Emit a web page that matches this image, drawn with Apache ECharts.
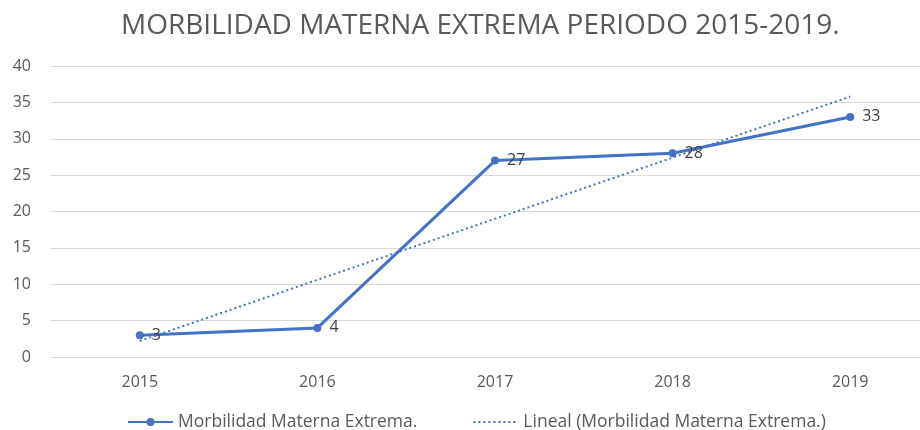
<!DOCTYPE html>
<html>
<head>
<meta charset="utf-8">
<script src="https://cdn.jsdelivr.net/npm/echarts@6/dist/echarts.min.js"></script>
<style>
  html, body { margin: 0; padding: 0; background: #fff; }
  #chart { width: 920px; height: 430px; }
</style>
</head>
<body>
<div id="chart"></div>
<script>
var years = ['2015', '2016', '2017', '2018', '2019'];
var casos = [3, 4, 27, 28, 33];
// tendencia lineal
var tendencia = [2.2, 10.6, 19, 27.4, 35.8];
var yTicks = { min: 0, max: 40, interval: 5 };

var dom = document.getElementById('chart');
var myChart = echarts.init(dom, null, { renderer: 'canvas' });

var fontFam = '"Open Sans", "Liberation Sans", sans-serif';
var azul = '#4472C4';

var option = {
  animation: false,
  title: {
    text: 'MORBILIDAD MATERNA EXTREMA PERIODO 2015-2019.',
    left: 116,
    top: 7,
    textStyle: { color: '#595959', fontSize: 28, fontWeight: 'normal', fontFamily: fontFam }
  },
  legend: {
    top: 408,
    left: 122,
    itemWidth: 45,
    itemHeight: 10,
    itemGap: 55,
    textStyle: { color: '#595959', fontSize: 17.5, fontFamily: fontFam },
    data: [
      { name: 'Morbilidad Materna Extrema.' },
      { name: 'Lineal (Morbilidad Materna Extrema.)', itemStyle: { opacity: 0 } }
    ]
  },
  grid: { left: 51, width: 888, top: 66, bottom: 73, outerBoundsMode: 'none', containLabel: false },
  xAxis: {
    type: 'category',
    data: years,
    boundaryGap: true,
    axisLine: { show: false },
    axisTick: { show: false },
    axisLabel: { color: '#595959', fontSize: 16, fontFamily: fontFam, margin: 17 }
  },
  yAxis: {
    type: 'value',
    min: yTicks.min,
    max: yTicks.max,
    interval: yTicks.interval,
    axisLine: { show: false },
    axisTick: { show: false },
    axisLabel: { color: '#595959', fontSize: 16, fontFamily: fontFam, margin: 20 },
    splitLine: { lineStyle: { color: '#d9d9d9', width: 1 } }
  },
  series: [
    {
      name: 'Morbilidad Materna Extrema.',
      type: 'line',
      data: casos,
      symbol: 'circle',
      symbolSize: 8,
      itemStyle: { color: azul },
      lineStyle: { color: azul, width: 3 },
      label: {
        show: true,
        position: 'right',
        distance: 8,
        color: '#404040',
        fontSize: 16,
        fontFamily: fontFam
      },
      z: 3
    },
    {
      name: 'Lineal (Morbilidad Materna Extrema.)',
      type: 'line',
      data: tendencia,
      symbol: 'none',
      itemStyle: { color: azul },
      lineStyle: { color: azul, width: 2, type: [2, 3] },
      z: 2
    }
  ]
};

if (option && typeof option === 'object') {
  myChart.setOption(option);
}
window.addEventListener('resize', myChart.resize);
</script>
</body>
</html>
